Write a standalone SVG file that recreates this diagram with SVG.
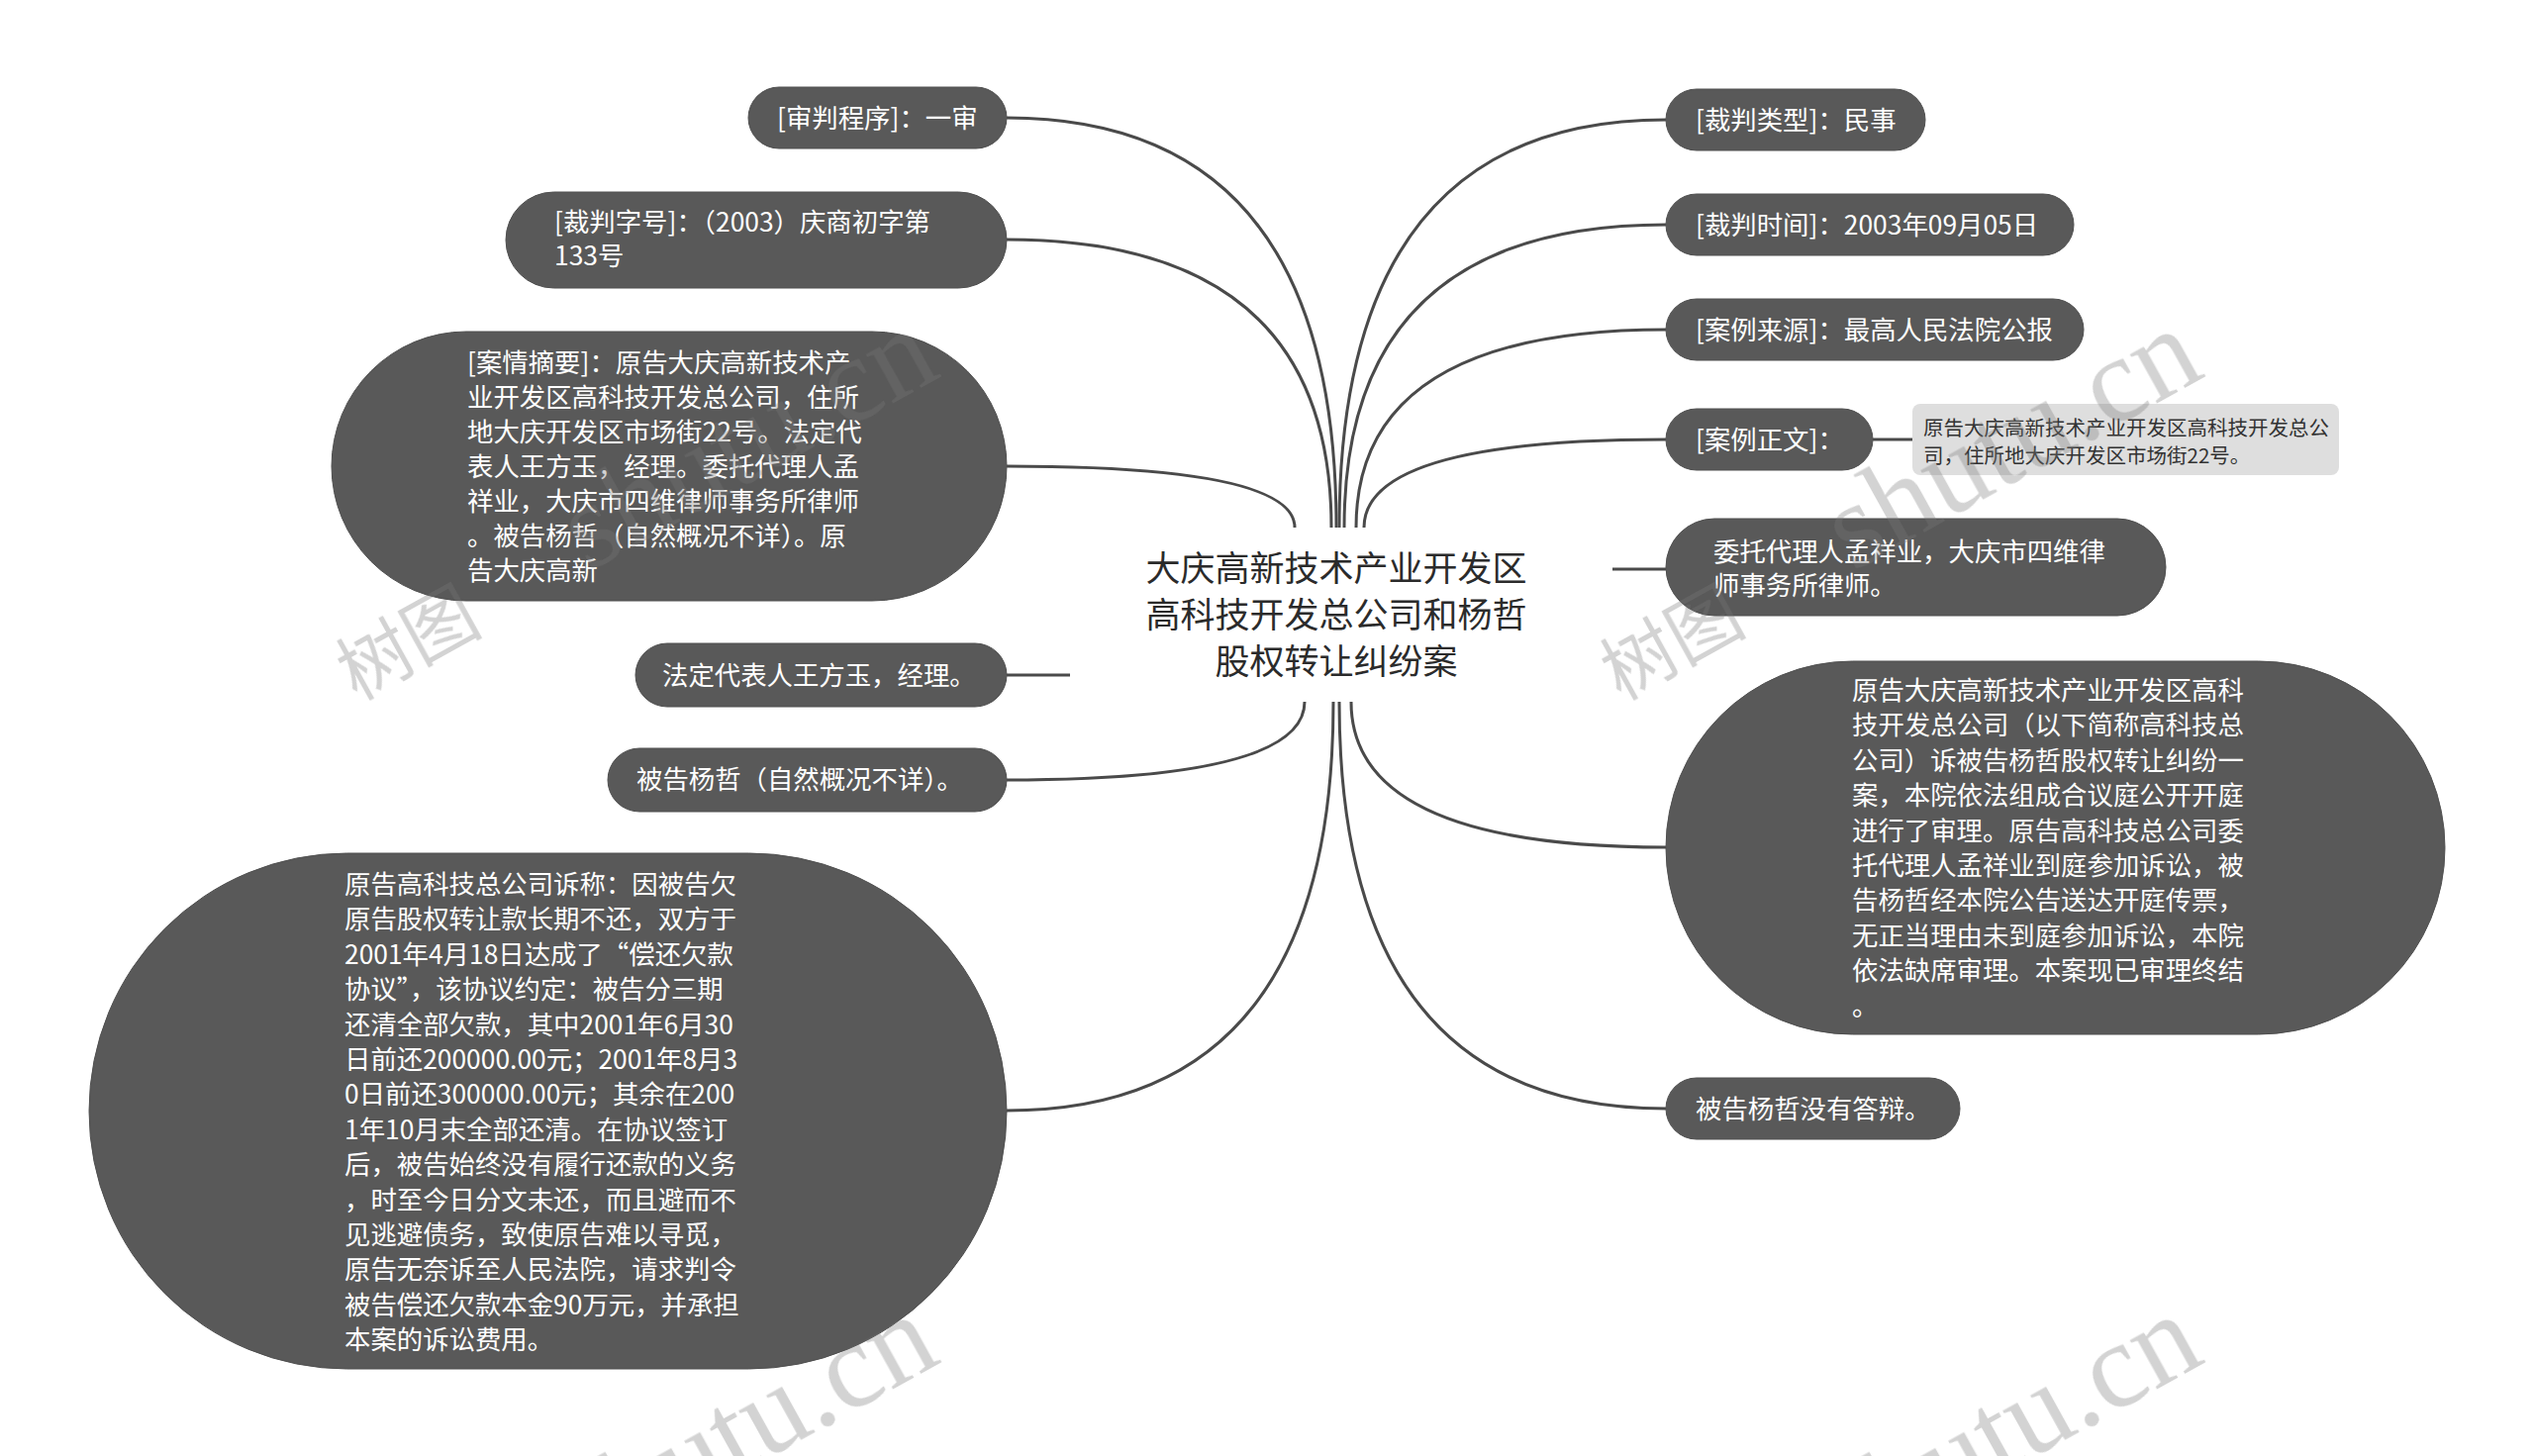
<svg xmlns="http://www.w3.org/2000/svg" xmlns:xlink="http://www.w3.org/1999/xlink" width="2560" height="1471" viewBox="0 0 2560 1471">
<defs>
<style>
.node{fill:#595959;stroke:#505050;stroke-width:1}
.t{font-family:"Noto Sans CJK SC","Noto Sans",sans-serif;font-size:26.4px;fill:#ffffff}
.title{font-family:"Noto Sans CJK SC","Noto Sans",sans-serif;font-size:35px;fill:#2b2b2b;text-anchor:middle}
.sub{fill:#dedede}
.st{font-family:"Noto Sans CJK SC","Noto Sans",sans-serif;font-size:20.5px;fill:#333333}
.c{fill:none;stroke:#4a4a4a;stroke-width:3}
.wm{fill:#7a7a7a;opacity:0.33}
</style>
<text id="wm"><tspan font-family="Noto Sans CJK SC, sans-serif" font-size="74">树图</tspan><tspan dx="120" font-family="Liberation Serif, serif" font-size="122">shutu.cn</tspan></text>
</defs>
<rect width="2560" height="1471" fill="#ffffff"/>
<g id="connectors">
<path class="c" d="M1350,533 Q1350,119 1017,119"/>
<path class="c" d="M1345,533 Q1345,242 1017,242"/>
<path class="c" d="M1308,533 Q1308,471 1017,471"/>
<path class="c" d="M1081,682 L1017,682"/>
<path class="c" d="M1318,709 Q1318,788 1017,788"/>
<path class="c" d="M1347,709 Q1347,1122 1017,1122"/>
<path class="c" d="M1353,533 Q1353,121 1683,121"/>
<path class="c" d="M1358,533 Q1358,227 1683,227"/>
<path class="c" d="M1370,533 Q1370,333 1683,333"/>
<path class="c" d="M1378,533 Q1378,444 1683,444"/>
<path class="c" d="M1892,444 L1932,444"/>
<path class="c" d="M1629,575 L1683,575"/>
<path class="c" d="M1365,709 Q1365,856 1683,856"/>
<path class="c" d="M1353,709 Q1353,1120 1683,1120"/>
</g>
<g id="center">
<text class="title"><tspan x="1350" y="587">大庆高新技术产业开发区</tspan><tspan x="1350" y="634">高科技开发总公司和杨哲</tspan><tspan x="1350" y="681">股权转让纠纷案</tspan></text>
</g>
<g id="n-shenpan">
<rect class="node" x="756" y="88" width="261" height="62" rx="31"/>
<text class="t" x="785" y="129">[审判程序]：一审</text>
</g>
<g id="n-zihao">
<rect class="node" x="511" y="194" width="506" height="97" rx="48.5"/>
<text class="t"><tspan x="560" y="234">[裁判字号]：（2003）庆商初字第</tspan><tspan x="560" y="268">133号</tspan></text>
</g>
<g id="n-zhaiyao">
<rect class="node" x="335" y="335" width="682" height="272" rx="136"/>
<text class="t"><tspan x="472" y="376">[案情摘要]：原告大庆高新技术产</tspan><tspan x="472" y="411">业开发区高科技开发总公司，住所</tspan><tspan x="472" y="446">地大庆开发区市场街22号。法定代</tspan><tspan x="472" y="481">表人王方玉，经理。委托代理人孟</tspan><tspan x="472" y="516">祥业，大庆市四维律师事务所律师</tspan><tspan x="472" y="551">。被告杨哲（自然概况不详）。原</tspan><tspan x="472" y="586">告大庆高新</tspan></text>
</g>
<g id="n-fading">
<rect class="node" x="642" y="650" width="375" height="64" rx="32"/>
<text class="t" x="669" y="692">法定代表人王方玉，经理。</text>
</g>
<g id="n-beigao">
<rect class="node" x="614" y="756" width="403" height="64" rx="32"/>
<text class="t" x="643" y="797">被告杨哲（自然概况不详）。</text>
</g>
<g id="n-suchen">
<rect class="node" x="90" y="862" width="927" height="521" rx="260.5"/>
<text class="t"><tspan x="348" y="903">原告高科技总公司诉称：因被告欠</tspan><tspan x="348" y="938.4">原告股权转让款长期不还，双方于</tspan><tspan x="348" y="973.8">2001年4月18日达成了“偿还欠款</tspan><tspan x="348" y="1009.2">协议”，该协议约定：被告分三期</tspan><tspan x="348" y="1044.6">还清全部欠款，其中2001年6月30</tspan><tspan x="348" y="1080">日前还200000.00元；2001年8月3</tspan><tspan x="348" y="1115.4">0日前还300000.00元；其余在200</tspan><tspan x="348" y="1150.8">1年10月末全部还清。在协议签订</tspan><tspan x="348" y="1186.2">后，被告始终没有履行还款的义务</tspan><tspan x="348" y="1221.6">，时至今日分文未还，而且避而不</tspan><tspan x="348" y="1257">见逃避债务，致使原告难以寻觅，</tspan><tspan x="348" y="1292.4">原告无奈诉至人民法院，请求判令</tspan><tspan x="348" y="1327.8">被告偿还欠款本金90万元，并承担</tspan><tspan x="348" y="1363.2">本案的诉讼费用。</tspan></text>
</g>
<g id="n-leixing">
<rect class="node" x="1683" y="90" width="262" height="62" rx="31"/>
<text class="t" x="1713" y="131">[裁判类型]：民事</text>
</g>
<g id="n-shijian">
<rect class="node" x="1683" y="196" width="412" height="62" rx="31"/>
<text class="t" x="1713" y="237">[裁判时间]：2003年09月05日</text>
</g>
<g id="n-laiyuan">
<rect class="node" x="1683" y="302" width="422" height="62" rx="31"/>
<text class="t" x="1713" y="343">[案例来源]：最高人民法院公报</text>
</g>
<g id="n-zhengwen">
<rect class="node" x="1683" y="413" width="209" height="62" rx="31"/>
<text class="t" x="1713" y="454">[案例正文]：</text>
</g>
<g id="n-zhengwen-detail">
<rect class="sub" x="1932" y="408" width="431" height="72" rx="8"/>
<text class="st"><tspan x="1943" y="440">原告大庆高新技术产业开发区高科技开发总公</tspan><tspan x="1943" y="468">司，住所地大庆开发区市场街22号。</tspan></text>
</g>
<g id="n-weituo">
<rect class="node" x="1683" y="524" width="505" height="98" rx="49"/>
<text class="t"><tspan x="1731" y="567">委托代理人孟祥业，大庆市四维律</tspan><tspan x="1731" y="601">师事务所律师。</tspan></text>
</g>
<g id="n-shenli">
<rect class="node" x="1683" y="668" width="787" height="377" rx="188.5"/>
<text class="t"><tspan x="1871" y="707">原告大庆高新技术产业开发区高科</tspan><tspan x="1871" y="742.4">技开发总公司（以下简称高科技总</tspan><tspan x="1871" y="777.8">公司）诉被告杨哲股权转让纠纷一</tspan><tspan x="1871" y="813.2">案，本院依法组成合议庭公开开庭</tspan><tspan x="1871" y="848.6">进行了审理。原告高科技总公司委</tspan><tspan x="1871" y="884">托代理人孟祥业到庭参加诉讼，被</tspan><tspan x="1871" y="919.4">告杨哲经本院公告送达开庭传票，</tspan><tspan x="1871" y="954.8">无正当理由未到庭参加诉讼，本院</tspan><tspan x="1871" y="990.2">依法缺席审理。本案现已审理终结</tspan><tspan x="1871" y="1025.6">。</tspan></text>
</g>
<g id="n-dabian">
<rect class="node" x="1683" y="1089" width="297" height="62" rx="31"/>
<text class="t" x="1713" y="1130">被告杨哲没有答辩。</text>
</g>
<g id="watermarks" class="wm">
<use xlink:href="#wm" transform="translate(360,708) rotate(-29)"/>
<use xlink:href="#wm" transform="translate(1637,708) rotate(-29)"/>
<use xlink:href="#wm" transform="translate(360,1704) rotate(-29)"/>
<use xlink:href="#wm" transform="translate(1637,1704) rotate(-29)"/>
</g>
</svg>
